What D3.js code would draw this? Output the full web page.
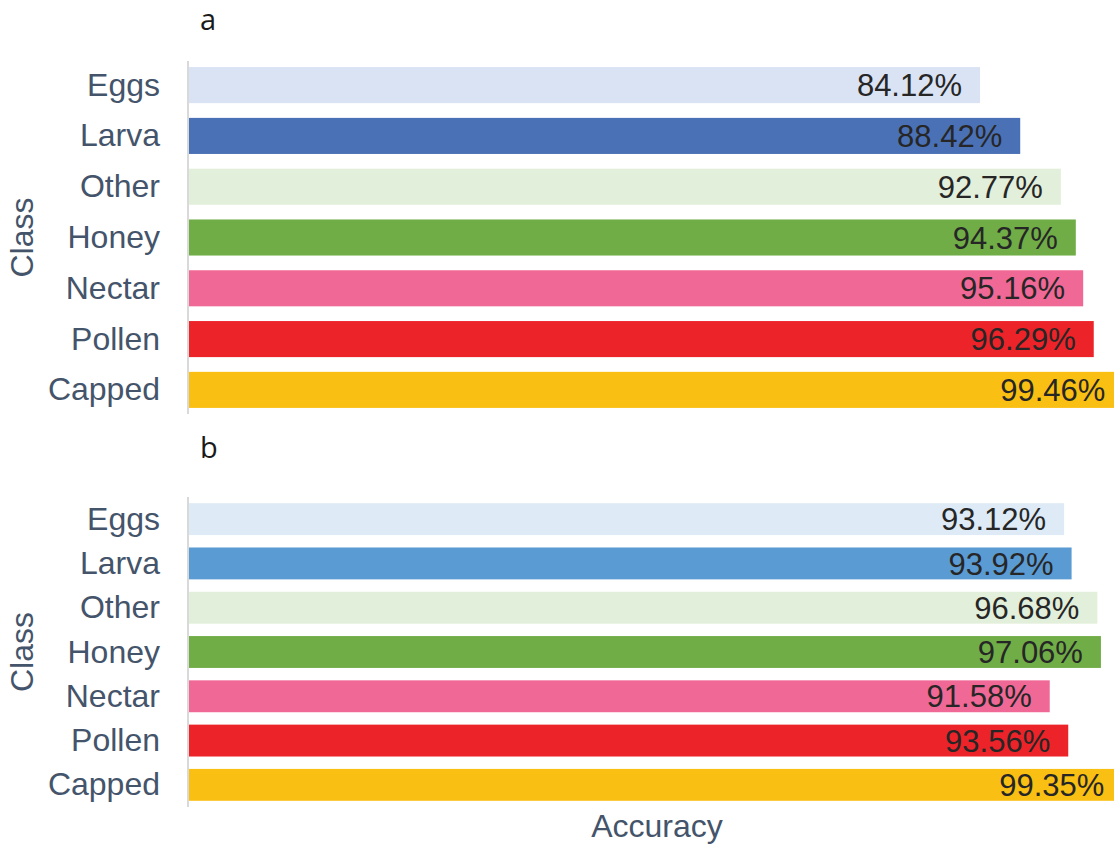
<!DOCTYPE html>
<html>
<head>
<meta charset="utf-8">
<script src="https://cdn.jsdelivr.net/npm/d3@7"></script>
<style>
  body { margin: 0; background: #fff; }
  svg { display: block; }
  .cat { font-family: "Liberation Sans", Arial, sans-serif; font-size: 32px; fill: #44546a; }
  .val { font-family: "Liberation Sans", Arial, sans-serif; font-size: 31px; fill: #262626; }
  .ttl { font-family: "Open Sans", sans-serif; font-size: 29px; fill: #1a1a1a; }
</style>
</head>
<body>
<div id="chart"></div>
<script>
// data
var classes = ["Eggs", "Larva", "Other", "Honey", "Nectar", "Pollen", "Capped"];
var accuracyA = [84.12, 88.42, 92.77, 94.37, 95.16, 96.29, 99.46];
var accuracyB = [93.12, 93.92, 96.68, 97.06, 91.58, 93.56, 99.35];
var colorsA = ["#dae3f3", "#4a71b6", "#e2efda", "#70ad47", "#f06895", "#ec2329", "#fabf13"];
var colorsB = ["#deeaf6", "#5b9bd3", "#e2efda", "#70ad47", "#f06895", "#ec2329", "#fabf13"];

var svgWidth = 1114;
var svgHeight = 845;

var svg = d3.select("#chart")
  .append("svg")
  .attr("width", svgWidth)
  .attr("height", svgHeight);

// shared accuracy scale (no ticks shown)
var xScale = d3.scaleLinear()
  .domain([-0.55, 100])
  .range([189, 1128.4]);

function drawPanel(title, values, colors, top, bottom, padIn, padOut, titleY) {
  var yScale = d3.scaleBand()
    .domain(classes)
    .range([top, bottom])
    .paddingInner(padIn)
    .paddingOuter(padOut);

  var g = svg.append("g");

  g.append("text")
    .attr("class", "ttl")
    .attr("x", 200)
    .attr("y", titleY)
    .text(title);

  g.selectAll("rect")
    .data(classes)
    .enter()
    .append("rect")
    .attr("x", xScale(-0.55))
    .attr("y", d => yScale(d))
    .attr("width", (d, i) => xScale(values[i]) - xScale(-0.55))
    .attr("height", yScale.bandwidth())
    .attr("fill", (d, i) => colors[i]);

  // axis line on the left
  g.append("line")
    .attr("x1", 188).attr("x2", 188)
    .attr("y1", top).attr("y2", bottom)
    .attr("stroke", "#d9d9d9")
    .attr("stroke-width", 2);

  g.selectAll(".cat")
    .data(classes)
    .enter()
    .append("text")
    .attr("class", "cat")
    .attr("x", 160)
    .attr("y", d => yScale(d) + yScale.bandwidth() / 2)
    .attr("dy", "0.33em")
    .attr("text-anchor", "end")
    .text(d => d);

  g.selectAll(".val")
    .data(classes)
    .enter()
    .append("text")
    .attr("class", "val")
    .attr("x", (d, i) => xScale(values[i]) - 18)
    .attr("y", d => yScale(d) + yScale.bandwidth() / 2)
    .attr("dy", "0.36em")
    .attr("text-anchor", "end")
    .text((d, i) => values[i].toFixed(2) + "%");

  g.append("text")
    .attr("class", "cat")
    .attr("transform", "rotate(-90)")
    .attr("x", -(top + bottom) / 2)
    .attr("y", 33)
    .attr("text-anchor", "middle")
    .text("Class");
}

drawPanel("a", accuracyA, colorsA, 61, 414, 0.29, 0.12, 30);
drawPanel("b", accuracyB, colorsB, 497, 807, 0.28, 0.14, 458);

svg.append("text")
  .attr("class", "cat")
  .attr("x", 657)
  .attr("y", 837)
  .attr("text-anchor", "middle")
  .text("Accuracy");
</script>
</body>
</html>
